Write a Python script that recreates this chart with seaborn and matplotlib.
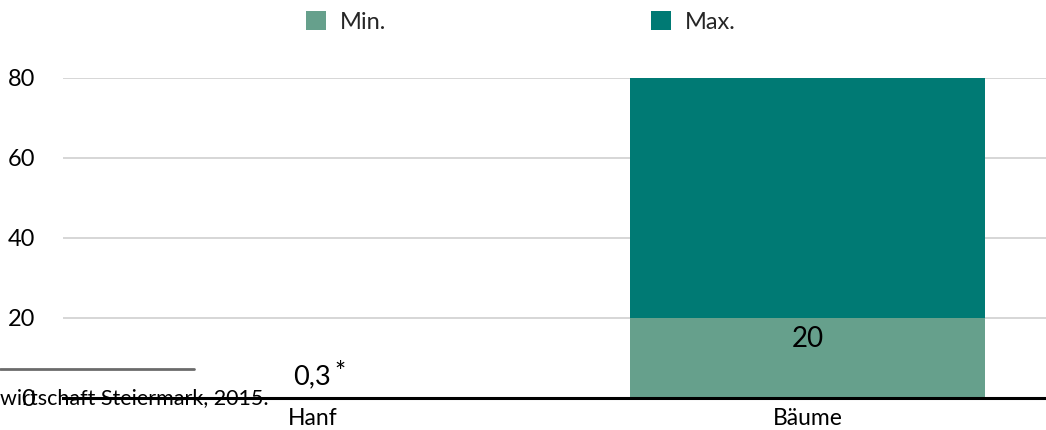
import matplotlib
matplotlib.use("Agg")
import matplotlib.pyplot as plt
from matplotlib.patches import Patch
import numpy as np
import pandas as pd
import seaborn as sns

# Data
categories = ["Hanf", "Bäume"]
min_values = [0.3, 20]
max_values = [0.3, 80]
value_labels = ["0,3", "20"]
y_ticks = [0, 20, 40, 60, 80]
footnote = "wirtschaft Steiermark, 2015."

COLOR_MIN = "#66a08c"
COLOR_MAX = "#007a74"

sns.set_theme(style="white")
plt.rcParams["font.family"] = ["Lato", "DejaVu Sans"]

df = pd.DataFrame({"Kategorie": categories, "Min.": min_values, "Max.": max_values})

fig = plt.figure(figsize=(10.46, 4.30), dpi=100)
ax = fig.add_axes([63 / 1046, 1 - 398 / 430, (1046 - 63) / 1046, 320 / 430])

# Max bars behind, Min bars in front
sns.barplot(data=df, x="Kategorie", y="Max.", color=COLOR_MAX, width=0.717,
            saturation=1, linewidth=0, ax=ax, zorder=2)
sns.barplot(data=df, x="Kategorie", y="Min.", color=COLOR_MIN, width=0.717,
            saturation=1, linewidth=0, ax=ax, zorder=3)

ax.set_xlim(-0.504, 1.482)
ax.set_ylim(0, 80)
ax.set_yticks(y_ticks)
ax.set_yticklabels([str(t) for t in y_ticks])
ax.set_xlabel("")
ax.set_ylabel("")

ax.yaxis.grid(True, color="#d0d0d0", linewidth=1.2, zorder=0)
ax.set_axisbelow(True)
for side in ["top", "right", "left"]:
    ax.spines[side].set_visible(False)
ax.spines["bottom"].set_color("black")
ax.spines["bottom"].set_linewidth(2.2)
ax.spines["bottom"].set_zorder(5)

ax.tick_params(axis="y", length=0, pad=20, labelsize=17, labelcolor="black")
ax.tick_params(axis="x", length=0, pad=7, labelsize=16.5, labelcolor="black")

# Value labels
ax.annotate(value_labels[0], xy=(0, min_values[0]), xytext=(0, 5.5),
            textcoords="offset points", ha="center", va="bottom",
            fontsize=19.5, color="black", zorder=6)
ax.annotate("*", xy=(0, min_values[0]), xytext=(20, 8),
            textcoords="offset points", ha="center", va="bottom",
            fontsize=19, color="black", zorder=6)
ax.annotate(value_labels[1], xy=(1, min_values[1]), xytext=(0, -6),
            textcoords="offset points", ha="center", va="top",
            fontsize=20, color="black", zorder=6)

# Legend
handles = [Patch(facecolor=COLOR_MIN, edgecolor="none", label="Min."),
           Patch(facecolor=COLOR_MAX, edgecolor="none", label="Max.")]
fig.legend(handles=handles, loc="center", bbox_to_anchor=(0.498, 0.949),
           ncol=2, frameon=False, fontsize=17, handlelength=0.85,
           handleheight=0.85, handletextpad=0.6, columnspacing=11.2,
           borderpad=0)

# Footnote separator and source text
fig.add_artist(plt.Line2D([0, 194 / 1046], [1 - 369 / 430, 1 - 369 / 430],
                          color="#6b6b6b", linewidth=2, transform=fig.transFigure))
fig.text(0.0, 1 - 398 / 430, footnote, ha="left", va="center",
         fontsize=15.5, color="black", zorder=10)

fig.savefig("out.png", dpi=100)
